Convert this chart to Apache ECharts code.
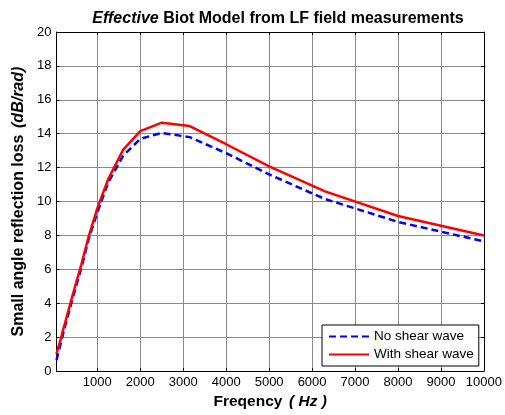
<!DOCTYPE html>
<html><head><meta charset="utf-8">
<script src="https://cdn.jsdelivr.net/npm/echarts@6/dist/echarts.min.js"></script>
<style>html,body{margin:0;padding:0;background:#fff}#c{width:505px;height:415px}</style>
</head><body><div id="c"></div>
<script>
const freqs = [50, 63, 80, 100, 125, 160, 200, 250, 315, 400, 500, 630, 800, 1000, 1250, 1600, 2000, 2500, 3150, 4000, 5000, 6300, 8000, 10000];
const noShear = [0.65, 0.78, 0.95, 1.15, 1.4, 1.75, 2.15, 2.65, 3.25, 4.05, 4.95, 6.1, 7.8, 9.35, 11.1, 12.7, 13.7, 14.05, 13.8, 12.85, 11.6, 10.15, 8.8, 7.65];
const withShear = [1.0, 1.1, 1.3, 1.45, 1.7, 2.0, 2.4, 2.85, 3.45, 4.25, 5.15, 6.3, 7.95, 9.6, 11.3, 13.05, 14.15, 14.65, 14.45, 13.38, 12.08, 10.6, 9.15, 8.0];
const xTicks = [1000, 2000, 3000, 4000, 5000, 6000, 7000, 8000, 9000, 10000];
const seriesNames = ['No shear wave', 'With shear wave'];

const FONT = 'Liberation Sans, Arial, Helvetica, sans-serif';
const chart = echarts.init(document.getElementById('c'), null, {renderer: 'canvas'});
const pairs = (ys) => freqs.map((f, i) => [f, ys[i]]);
const gridColor = '#8a8a8a';
const xBase = {
  type: 'value', min: 50, max: 10000,
  axisLine: {show: true, onZero: false, lineStyle: {color: '#000', width: 1}},
  axisTick: {show: true, inside: true, length: 3, customValues: xTicks, lineStyle: {color: '#000'}},
};
const yBase = {
  type: 'value', min: 0, max: 20, interval: 2,
  axisLine: {show: true, onZero: false, lineStyle: {color: '#000', width: 1}},
  axisTick: {show: true, inside: true, length: 3, lineStyle: {color: '#000'}},
};
chart.setOption({
  animation: false,
  backgroundColor: '#fff',
  textStyle: {fontFamily: FONT},
  title: {
    text: '{i|Effective} Biot Model from LF field measurements',
    left: 273, top: 6, textAlign: 'center',
    textStyle: {fontFamily: FONT, fontSize: 16, fontWeight: 'bold', color: '#000',
      rich: {i: {fontFamily: FONT, fontSize: 16, fontWeight: 'bold', fontStyle: 'italic', color: '#000'}}}
  },
  grid: {left: 56.5, right: 20.5, top: 32, bottom: 41.7, containLabel: false},
  legend: {
    orient: 'vertical', left: 322, top: 325,
    data: seriesNames,
    backgroundColor: '#fff', borderColor: '#000', borderWidth: 1, borderRadius: 0,
    padding: [4.5, 5, 4.5, 6], itemGap: 4, itemWidth: 40, itemHeight: 14,
    itemStyle: {color: 'rgba(0,0,0,0)', borderColor: 'rgba(0,0,0,0)', borderWidth: 0},
    textStyle: {fontFamily: FONT, fontSize: 13.5, color: '#000'}
  },
  xAxis: [
    Object.assign({}, xBase, {
      position: 'bottom',
      name: '{b|Freqency}  {bi|( Hz )}', nameLocation: 'middle', nameGap: 21,
      nameTextStyle: {rich: {
        b: {fontFamily: FONT, fontSize: 15.5, fontWeight: 'bold', color: '#000'},
        bi: {fontFamily: FONT, fontSize: 15.5, fontWeight: 'bold', fontStyle: 'italic', color: '#000'}}},
      axisLabel: {show: true, margin: 5, customValues: xTicks, fontFamily: FONT, fontSize: 13, color: '#000',
        formatter: (v) => String(v)},
      splitLine: {show: true, lineStyle: {color: gridColor, width: 1}}
    }),
    Object.assign({}, xBase, {
      position: 'top', axisLabel: {show: false}, splitLine: {show: false}
    })
  ],
  yAxis: [
    Object.assign({}, yBase, {
      position: 'left',
      name: '{b|Small angle reflection loss}  {bi|(dB/rad)}', nameLocation: 'middle', nameGap: 28, nameRotate: 90,
      nameTextStyle: {rich: {
        b: {fontFamily: FONT, fontSize: 16, fontWeight: 'bold', color: '#000'},
        bi: {fontFamily: FONT, fontSize: 16, fontWeight: 'bold', fontStyle: 'italic', color: '#000'}}},
      axisLabel: {show: true, margin: 5, fontFamily: FONT, fontSize: 13, color: '#000'},
      splitLine: {show: true, lineStyle: {color: gridColor, width: 1}}
    }),
    Object.assign({}, yBase, {
      position: 'right', axisLabel: {show: false}, splitLine: {show: false}
    })
  ],
  series: [
    {name: seriesNames[0], type: 'line', data: pairs(noShear), symbol: 'circle', showSymbol: false, z: 3,
     lineStyle: {color: '#0000ff', width: 2.5, type: [7, 4]}, itemStyle: {color: '#0000ff'}},
    {name: seriesNames[1], type: 'line', data: pairs(withShear), symbol: 'circle', showSymbol: false, z: 4,
     lineStyle: {color: '#ff0000', width: 2.5, type: 'solid'}, itemStyle: {color: '#ff0000'}}
  ]
});
</script></body></html>
